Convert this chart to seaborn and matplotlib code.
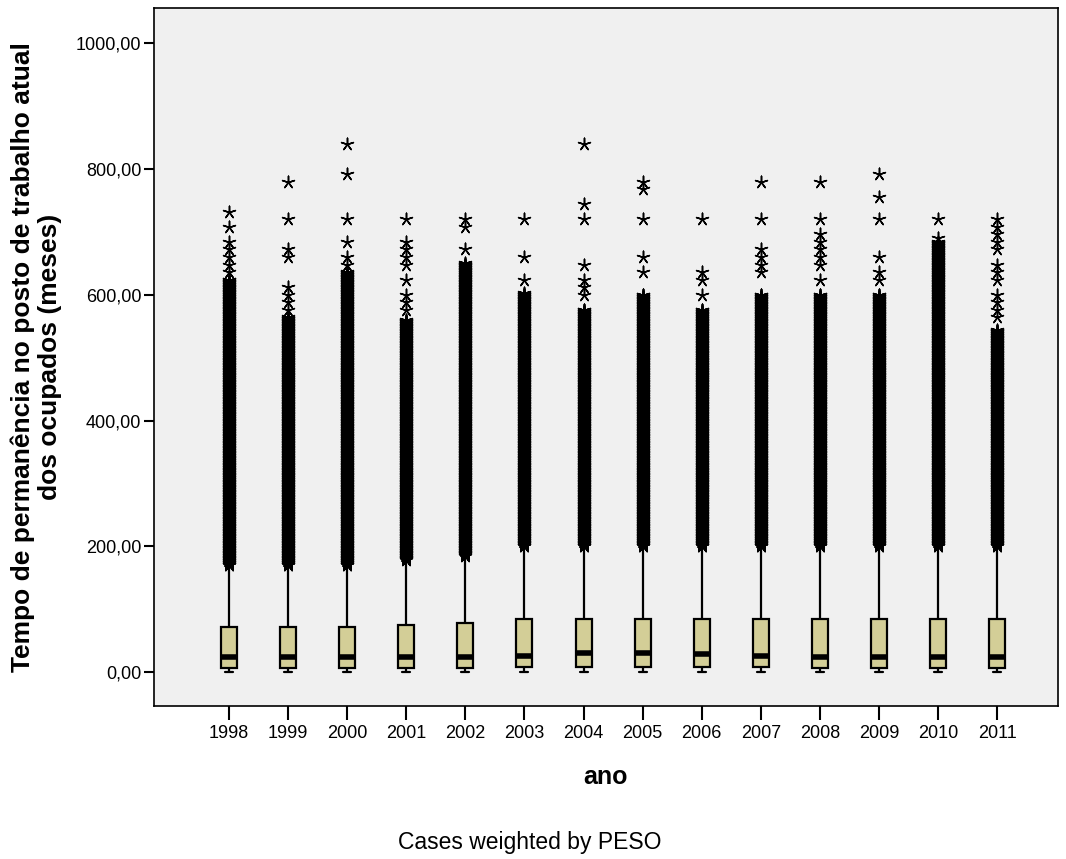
import numpy as np
import pandas as pd
import matplotlib
matplotlib.use("Agg")
import matplotlib.pyplot as plt
import seaborn as sns

# ---- data (months) ----
years = [str(y) for y in range(1998, 2012)]
whisker_low = [0, 0, 0, 0, 0, 0, 0, 0, 0, 0, 0, 0, 0, 0]
q1 = [7, 7, 7, 7, 7, 8, 8, 8, 8, 8, 7, 7, 7, 7]
median = [24, 24, 24, 24, 24, 26, 30, 30, 29, 25, 24, 24, 24, 24]
q3 = [72, 72, 72, 75, 78, 84, 84, 84, 84, 84, 84, 84, 84, 84]
whisker_high = [169, 169, 169, 177, 184, 199, 199, 199, 199, 199, 199, 199, 199, 199]

# extreme values: every observed month from the band start to the band end
band_start = [170, 170, 170, 178, 185, 200, 200, 200, 200, 200, 200, 200, 200, 200]
band_end = [624, 564, 636, 560, 650, 602, 576, 600, 576, 600, 600, 600, 684, 544]
# isolated extreme values above the band
sparse = {
    "1998": [732, 708, 684, 672, 660, 648, 636],
    "1999": [780, 720, 672, 660, 612, 600, 588, 576],
    "2000": [840, 792, 720, 684, 660, 648],
    "2001": [720, 684, 672, 660, 648, 624, 600, 588, 576],
    "2002": [720, 708, 672],
    "2003": [720, 660, 624],
    "2004": [840, 744, 720, 648, 624, 612, 600],
    "2005": [780, 768, 720, 660, 636],
    "2006": [720, 636, 624, 600],
    "2007": [780, 720, 672, 660, 648, 636],
    "2008": [780, 720, 696, 684, 672, 660, 648, 624],
    "2009": [792, 756, 720, 660, 636, 624],
    "2010": [720, 690],
    "2011": [720, 708, 696, 684, 672, 648, 636, 624, 600, 588, 576, 564],
}

# ---- build tables ----
box_rows = []
for i, y in enumerate(years):
    for v in (whisker_low[i], q1[i], median[i], q3[i], whisker_high[i]):
        box_rows.append((y, v))
box_df = pd.DataFrame(box_rows, columns=["ano", "meses"])

out_rows = []
for i, y in enumerate(years):
    for v in range(band_start[i], band_end[i] + 1):
        out_rows.append((y, v))
    for v in sparse[y]:
        out_rows.append((y, v))
out_df = pd.DataFrame(out_rows, columns=["ano", "meses"])

# ---- figure ----
sns.set_style("ticks")
plt.rcParams["font.family"] = ["Liberation Sans", "DejaVu Sans"]
plt.rcParams.update({"text.color": "black", "axes.labelcolor": "black",
                     "xtick.color": "black", "ytick.color": "black",
                     "xtick.labelcolor": "black", "ytick.labelcolor": "black"})

fig = plt.figure(figsize=(10.66, 8.59), dpi=100)
ax = fig.add_axes([154 / 1066, 1 - 706 / 859, 904 / 1066, 698 / 859])
ax.set_facecolor("#F0F0F0")

sns.stripplot(data=out_df, x="ano", y="meses", order=years, jitter=False,
              marker=(5, 2, 0), color="black", size=9, linewidth=1.1,
              ax=ax, zorder=2)

sns.boxplot(data=box_df, x="ano", y="meses", order=years, whis=(0, 100),
            showfliers=False, width=0.27, color="#D3CE97", linewidth=1.6,
            linecolor="black", ax=ax,
            boxprops=dict(facecolor="#D3CE97", edgecolor="black", zorder=3),
            medianprops=dict(color="black", linewidth=4, zorder=4),
            whiskerprops=dict(color="black", linewidth=1.6, zorder=3),
            capprops=dict(color="black", linewidth=1.6, zorder=3))

ax.set_xlim(-1.27, 14.03)
ax.set_ylim(-54, 1056)
yt = [0, 200, 400, 600, 800, 1000]
ax.set_yticks(yt)
ax.set_yticklabels([f"{v:.2f}".replace(".", ",") for v in yt])
ax.tick_params(axis="y", length=7, width=1.5, labelsize=13, pad=2,
               color="black", labelcolor="black")
ax.tick_params(axis="x", length=10, width=1.5, labelsize=13, pad=4,
               color="black", labelcolor="black")

for s in ax.spines.values():
    s.set_visible(True)
    s.set_color("black")
    s.set_linewidth(1.2)

ax.set_xlabel("ano", fontsize=18, fontweight="bold", labelpad=16, color="black")
ax.set_ylabel("Tempo de permanência no posto de trabalho atual\ndos ocupados (meses)",
              fontsize=19, fontweight="bold", labelpad=10, linespacing=1.15,
              color="black")

fig.text(530 / 1066, 1 - 843 / 859, "Cases weighted by PESO", ha="center",
         va="center", fontsize=16.5, color="black")

fig.savefig("out.png", dpi=100)
